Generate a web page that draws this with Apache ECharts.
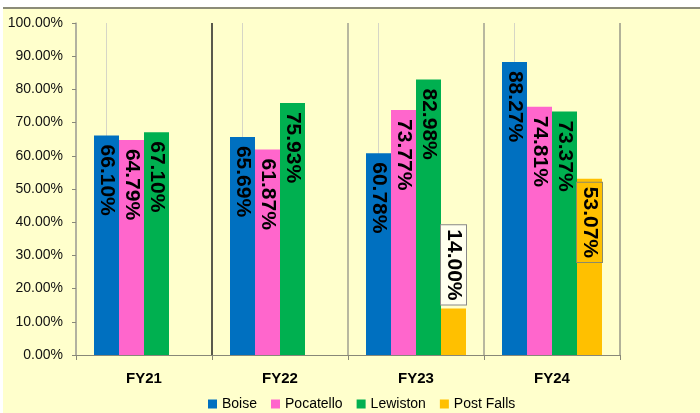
<!DOCTYPE html>
<html>
<head>
<meta charset="utf-8">
<script src="https://cdn.jsdelivr.net/npm/echarts@6/dist/echarts.min.js"></script>
<style>
  html, body { margin: 0; padding: 0; background: #fff; }
  #panel { position: absolute; left: 3px; top: 7px; width: 697px; height: 406px;
           background: #ffffcc; border-top: 2px solid #8c8c78; box-sizing: border-box; }
  #main { position: absolute; left: 0; top: 0; width: 700px; height: 413px; }
</style>
</head>
<body>
<div id="panel"></div>
<div id="main"></div>
<script>
// 数据
const categories = ['FY21', 'FY22', 'FY23', 'FY24'];
const boise = [66.10, 65.69, 60.78, 88.27];
const pocatello = [64.79, 61.87, 73.77, 74.81];
const lewiston = [67.10, 75.93, 82.98, 73.37];
const postFalls = [null, null, 14.00, 53.07];
const yTicks = [0, 10, 20, 30, 40, 50, 60, 70, 80, 90, 100];

const font = 'Arial, "Liberation Sans", sans-serif';
const fmt = p => p.value.toFixed(2) + '%';

const insideLabel = {
    show: true,
    position: 'insideTop',
    distance: 9,
    rotate: -90,
    align: 'left',
    verticalAlign: 'middle',
    color: '#000',
    fontSize: 21,
    fontWeight: 'bold',
    fontFamily: font,
    formatter: fmt
};

function barSeries(name, data, color, extra) {
    return Object.assign({
        name: name,
        type: 'bar',
        data: data,
        barWidth: 25,
        barGap: '0%',
        itemStyle: { color: color },
        label: insideLabel
    }, extra || {});
}

// Post Falls 的标签带框
const postFallsData = postFalls.map((v, i) => {
    if (v === null) return null;
    if (v < 30) {
        return {
            value: v,
            label: Object.assign({}, insideLabel, {
                position: 'top', distance: 4, align: 'right',
                backgroundColor: '#ffffee', borderColor: '#888', borderWidth: 1, padding: [2, 4]
            })
        };
    }
    return {
        value: v,
        label: Object.assign({}, insideLabel, {
            distance: 4,
            backgroundColor: '#ffc000', borderColor: '#8a8a6a', borderWidth: 1, padding: [2, 4]
        })
    };
});

const myChart = echarts.init(document.getElementById('main'));
const option = {
    backgroundColor: 'transparent',
    animation: false,
    textStyle: { fontFamily: font },
    grid: { left: 76, right: 80, top: 23, bottom: 58 },
    legend: {
        data: ['Boise', 'Pocatello', 'Lewiston', 'Post Falls'],
        left: 208,
        bottom: 2,
        padding: 0,
        icon: 'rect',
        itemWidth: 9,
        itemHeight: 9,
        itemGap: 14,
        textStyle: { fontSize: 14, color: '#000', fontFamily: font }
    },
    xAxis: {
        type: 'category',
        data: categories,
        axisLine: { lineStyle: { color: '#888878', width: 1 } },
        axisTick: { show: true, length: 5, lineStyle: { color: '#888878' } },
        axisLabel: { fontSize: 15, fontWeight: 'bold', color: '#000', margin: 16, fontFamily: font },
        splitLine: {
            show: true,
            lineStyle: { color: ['#a0a090', '#222', '#a0a090', '#a0a090', '#999988'], width: 1.5 }
        }
    },
    yAxis: {
        type: 'value',
        min: yTicks[0],
        max: yTicks[yTicks.length - 1],
        interval: 10,
        axisLine: { show: true, lineStyle: { color: '#b0b0a0', width: 1.5 } },
        axisTick: { show: true, length: 4, lineStyle: { color: '#888878' } },
        axisLabel: { fontSize: 14, color: '#111', margin: 13, fontFamily: font,
                     formatter: v => v.toFixed(2) + '%' },
        splitLine: { show: false }
    },
    series: [
        barSeries('Boise', boise, '#0070c0', {
            markLine: {
                silent: true,
                z: 1,
                symbol: 'none',
                label: { show: false },
                lineStyle: { color: '#d6d6c6', type: 'solid', width: 1 },
                data: categories.map(c => ({ xAxis: c }))
            }
        }),
        barSeries('Pocatello', pocatello, '#ff66cc'),
        barSeries('Lewiston', lewiston, '#00b050'),
        barSeries('Post Falls', postFallsData, '#ffc000')
    ]
};
myChart.setOption(option);
</script>
</body>
</html>
